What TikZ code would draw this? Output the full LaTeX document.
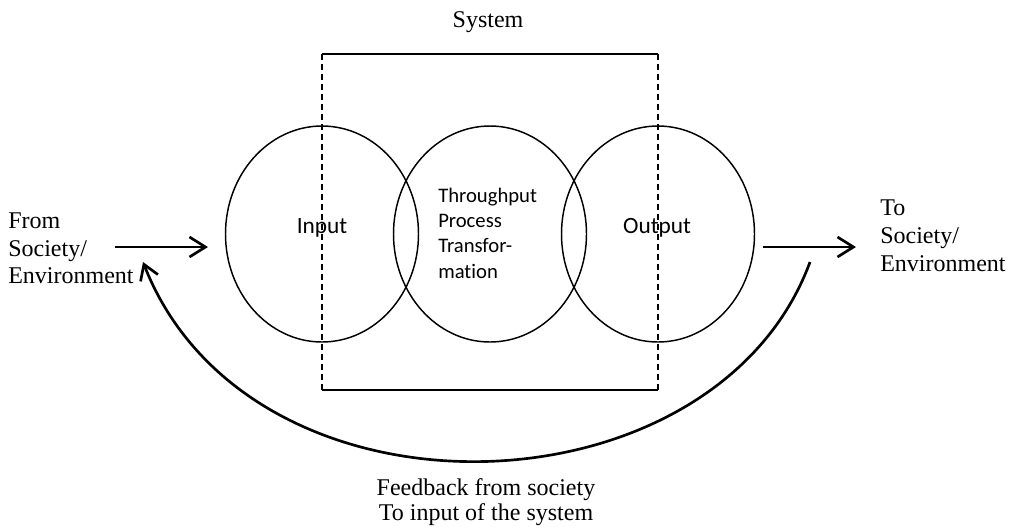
\documentclass[tikz,border=0pt]{standalone}
\usepackage{fontspec}
\setmainfont{Liberation Serif}
\newfontfamily\calibri[Ligatures=NoCommon]{Carlito}
\usetikzlibrary{shapes.geometric,arrows.meta}
\begin{document}
\begin{tikzpicture}[x=0.75pt,y=-0.75pt,
  stage/.style={draw,ellipse,line width=1.1pt,minimum width=144.75pt,minimum height=162pt,inner sep=0pt},
  boxsolid/.style={line width=0.9pt},
  boxdash/.style={line width=0.9pt,dash pattern=on 4.5pt off 3pt},
  flow/.style={line width=2pt,-{Straight Barb[length=12pt,width=15pt]}},
  fb/.style={line width=2pt,-{Straight Barb[length=11pt,width=14pt]}},
  serif/.style={font=\fontsize{18}{21}\selectfont,inner sep=0pt},
  cal/.style={font=\calibri\fontsize{17.5}{20}\selectfont,inner sep=0pt},
  calsmall/.style={font=\calibri\fontsize{15.5}{19}\selectfont,inner sep=0pt,align=left}
]
\useasboundingbox (0,0) rectangle (1017,526);

% system box
\coordinate (tl) at (322,54);
\coordinate (tr) at (658,54);
\coordinate (bl) at (322,390);
\coordinate (br) at (658,390);
\draw[boxsolid] (tl) -- (tr);
\draw[boxsolid] (bl) -- (br);
\draw[boxdash] (tl) -- (bl);
\draw[boxdash] (tr) -- (br);
\node[serif,anchor=base] (system) at (488,27) {System};

% ellipses
\node[stage] (inp) at (322,234) {};
\node[stage] (thr) at (490,234) {};
\node[stage] (out) at (658,234) {};

\node[cal,anchor=base] (inptxt) at (322,233) {Input};
\node[cal,anchor=base] (outtxt) at (657,233) {Output};
\node[calsmall,anchor=north west] (thrtxt) at (438,187.5) {Throughput\\Process\\Transfor-\\mation};

% side texts
\node[serif,align=left,anchor=north west,font=\fontsize{18}{20.6}\selectfont] (from) at (8,213) {From\\Society/\\Environment};
\node[serif,align=left,anchor=north west] (to) at (880,200) {To\\Society/\\Environment};

% arrows
\coordinate (a1s) at (115,247);
\coordinate (a1e) at (208,247);
\coordinate (a2s) at (763,247);
\coordinate (a2e) at (856,247);
\draw[flow] (a1s) -- (a1e);
\draw[flow] (a2s) -- (a2e);

% feedback
\coordinate (fbs) at (810,262);
\coordinate (fbe) at (143,262);
\coordinate (fc1) at (715,520);
\coordinate (fc2) at (250,535);
\draw[fb] (fbs) .. controls (fc1) and (fc2) .. (fbe);

\node[serif,align=center,anchor=north,font=\fontsize{18}{18.75}\selectfont] (fbtxt) at (486,478) {Feedback from society\\To input of the system};
\end{tikzpicture}
\end{document}
